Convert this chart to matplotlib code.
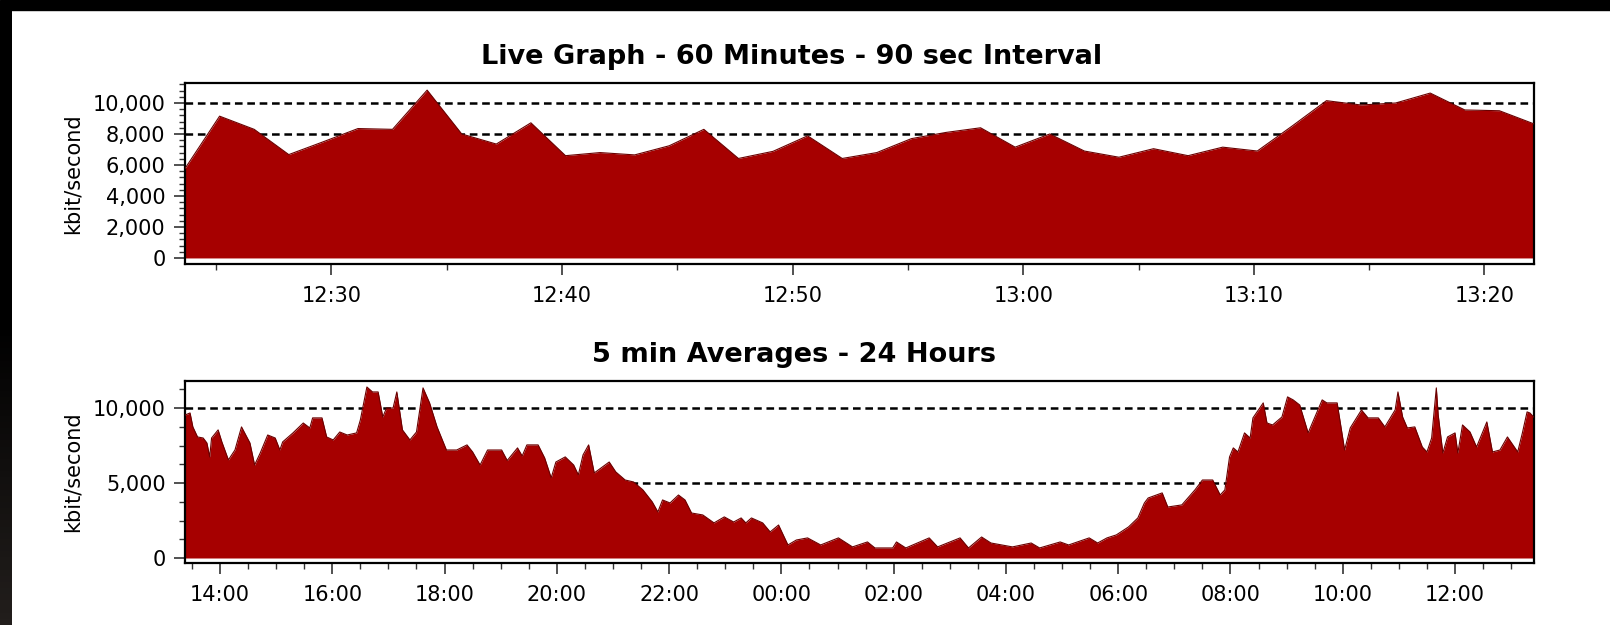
import matplotlib
matplotlib.use('Agg')

import numpy as np
import pandas as pd
import matplotlib.pyplot as plt
import matplotlib.dates as mdates
import matplotlib.ticker as mticker
from matplotlib.patches import Rectangle
from matplotlib.colors import LinearSegmentedColormap

plt.rcParams['font.family'] = ['DejaVu Sans']
plt.rcParams['lines.scale_dashes'] = False

FILL_COLOR = '#a60000'
EDGE_COLOR = '#6a0000'

# live graph, one sample every 90 seconds
LIVE_START = '2000-01-01 12:23:39'
LIVE_STEP = '90s'
LIVE_KBIT = [
  5770, 9150, 8300, 6670, 7500, 8350, 8300, 10830, 8000, 7350,
  8720, 6600, 6800, 6650, 7240, 8300, 6420, 6880, 7880, 6420,
  6800, 7700, 8100, 8400, 7150, 8000, 6900, 6500, 7050, 6600,
  7150, 6900, 8500, 10150, 9870, 10000, 10640, 9550, 9500, 8650,
]
LIVE_GRID = [8000, 10000]

AVG_CLOCK = [
  '13:23', '13:28', '13:31', '13:36', '13:42', '13:46', '13:49', '13:51', '13:58', '14:02',
  '14:09', '14:16', '14:23', '14:32', '14:37', '14:43', '14:51', '14:59', '15:04', '15:07',
  '15:18', '15:29', '15:36', '15:39', '15:49', '15:54', '16:01', '16:08', '16:16', '16:26',
  '16:30', '16:37', '16:43', '16:49', '16:54', '16:58', '17:05', '17:09', '17:15', '17:23',
  '17:30', '17:37', '17:44', '17:52', '18:02', '18:13', '18:24', '18:30', '18:38', '18:46',
  '19:01', '19:07', '19:18', '19:23', '19:28', '19:40', '19:47', '19:54', '19:59', '20:09',
  '20:18', '20:23', '20:28', '20:34', '20:40', '20:56', '21:03', '21:13', '21:22', '21:32',
  '21:42', '21:48', '21:53', '22:01', '22:10', '22:17', '22:24', '22:36', '22:48', '22:59',
  '23:09', '23:17', '23:22', '23:28', '23:40', '23:48', '23:57', '00:07', '00:16', '00:28',
  '00:42', '01:01', '01:16', '01:32', '01:40', '01:59', '02:03', '02:13', '02:38', '02:47',
  '03:11', '03:20', '03:34', '03:44', '04:07', '04:27', '04:36', '04:58', '05:07', '05:29',
  '05:38', '05:48', '05:58', '06:11', '06:21', '06:28', '06:32', '06:47', '06:53', '07:08',
  '07:22', '07:30', '07:41', '07:49', '07:54', '07:59', '08:03', '08:08', '08:15', '08:21',
  '08:24', '08:35', '08:39', '08:45', '08:55', '09:01', '09:07', '09:14', '09:23', '09:38',
  '09:43', '09:54', '10:02', '10:08', '10:20', '10:27', '10:38', '10:45', '10:56', '10:59',
  '11:04', '11:09', '11:17', '11:25', '11:30', '11:35', '11:40', '11:42', '11:47', '11:52',
  '12:00', '12:03', '12:08', '12:16', '12:23', '12:34', '12:40', '12:48', '12:56', '13:07',
  '13:12', '13:17', '13:20', '13:24',
]
AVG_KBIT = [
  9540, 9670, 8740, 8070, 8000, 7670, 6740, 8000, 8540, 7740,
  6540, 7200, 8740, 7670, 6200, 7000, 8200, 8000, 7200, 7740,
  8340, 9000, 8670, 9340, 9340, 8070, 7870, 8400, 8200, 8340,
  9200, 11400, 11070, 11070, 9400, 10000, 10000, 11070, 8540, 7870,
  8400, 11340, 10340, 8740, 7200, 7200, 7540, 7070, 6200, 7200,
  7200, 6500, 7340, 6800, 7540, 7540, 6670, 5340, 6400, 6740,
  6200, 5540, 6870, 7540, 5670, 6400, 5740, 5200, 5070, 4540,
  3740, 3070, 3870, 3670, 4200, 3870, 3000, 2870, 2340, 2740,
  2400, 2670, 2340, 2670, 2340, 1740, 2200, 870, 1200, 1340,
  870, 1340, 740, 1070, 670, 670, 1070, 670, 1340, 740,
  1340, 670, 1400, 1000, 740, 1000, 670, 1070, 870, 1340,
  1000, 1340, 1540, 2070, 2670, 3670, 4000, 4340, 3400, 3540,
  4540, 5200, 5200, 4200, 4540, 6740, 7340, 7070, 8340, 8000,
  9340, 10340, 9000, 8870, 9400, 10740, 10540, 10200, 8340, 10540,
  10340, 10340, 7200, 8670, 9870, 9340, 9340, 8740, 9870, 11070,
  9400, 8670, 8740, 7400, 7070, 8000, 11340, 9540, 7000, 8070,
  8340, 7000, 8870, 8400, 7400, 9070, 7070, 7200, 8070, 7070,
  8340, 9740, 9670, 9400,
]
AVG_GRID = [5000, 10000]

def clock_to_times(clock, first_day):
  times = []
  day = pd.Timestamp(first_day)
  prev = None
  for c in clock:
    t = pd.Timestamp('{} {}'.format(day.date(), c))
    if prev is not None and t < prev:
      day = day + pd.Timedelta(days=1)
      t = t + pd.Timedelta(days=1)
    times.append(t)
    prev = t
  return times

def style_axes(ax):
  for spine in ax.spines.values():
    spine.set_linewidth(1.6)
    spine.set_color('black')
  ax.tick_params(axis='both', which='major', direction='out', length=8, width=1.1,
                 color='#222222', labelsize=15, labelcolor='black')
  ax.tick_params(axis='both', which='minor', direction='out', length=4, width=1.0, color='#333333')
  ax.tick_params(axis='x', which='major', pad=8)
  ax.tick_params(axis='y', which='major', pad=6)
  ax.yaxis.set_major_formatter(mticker.FuncFormatter(lambda v, pos: '{:,.0f}'.format(v)))
  ax.set_ylabel('kbit/second', fontsize=15)
  ax.yaxis.set_label_coords(-0.076, 0.5)

def draw_area(ax, x, y, grid):
  for g in grid:
    ax.axhline(g, color='black', lw=1.8, dashes=(5.5, 3.4), zorder=1)
  ax.fill_between(x, 0, y, color=FILL_COLOR, lw=0, zorder=2)
  ax.plot(x, y, color=EDGE_COLOR, lw=0.8, zorder=3)

fig = plt.figure(figsize=(16.1, 6.25), dpi=100)
fig.patch.set_facecolor('white')
W, H = 1610., 625.

# dark window frame on top and left
fig.patches.append(Rectangle((0, 1 - 10 / H), 1, 10 / H, transform=fig.transFigure, color='black', zorder=0))
frame_ax = fig.add_axes([0, 0, 11 / W, 1 - 10 / H])
frame_cmap = LinearSegmentedColormap.from_list('frame', ['#000000', '#000000', '#221e1c'])
frame_ax.imshow(np.linspace(0, 1, 100).reshape(-1, 1), aspect='auto', cmap=frame_cmap, origin='upper')
frame_ax.set_axis_off()

# live graph
live_times = pd.date_range(LIVE_START, periods=len(LIVE_KBIT), freq=LIVE_STEP)
ax1 = fig.add_axes([185 / W, 1 - 264 / H, 1349 / W, 181 / H])
draw_area(ax1, live_times, LIVE_KBIT, LIVE_GRID)
ax1.set_xlim(live_times[0], live_times[-1])
ax1.set_ylim(-390, 11290)
ax1.yaxis.set_major_locator(mticker.MultipleLocator(2000))
ax1.yaxis.set_minor_locator(mticker.MultipleLocator(400))
ax1.xaxis.set_major_locator(mdates.MinuteLocator(byminute=range(0, 60, 10)))
ax1.xaxis.set_minor_locator(mdates.MinuteLocator(byminute=range(0, 60, 5)))
ax1.xaxis.set_major_formatter(mdates.DateFormatter('%H:%M'))
style_axes(ax1)

# 24 hour averages
avg_times = clock_to_times(AVG_CLOCK, '2000-01-01')
ax2 = fig.add_axes([185 / W, 1 - 563 / H, 1349 / W, 182 / H])
draw_area(ax2, avg_times, AVG_KBIT, AVG_GRID)
ax2.set_xlim(pd.Timestamp('2000-01-01 13:22:36'), pd.Timestamp('2000-01-02 13:24:24'))
ax2.set_ylim(-333, 11800)
ax2.yaxis.set_major_locator(mticker.MultipleLocator(5000))
ax2.yaxis.set_minor_locator(mticker.MultipleLocator(1250))
ax2.xaxis.set_major_locator(mdates.HourLocator(byhour=range(0, 24, 2)))
ax2.xaxis.set_minor_locator(mdates.MinuteLocator(byminute=[0, 30]))
ax2.xaxis.set_major_formatter(mdates.DateFormatter('%H:%M'))
style_axes(ax2)

fig.text(792 / W, 1 - 64 / H, 'Live Graph - 60 Minutes - 90 sec Interval',
         ha='center', va='baseline', fontsize=19.5, fontweight='bold')
fig.text(794 / W, 1 - 362 / H, '5 min Averages - 24 Hours',
         ha='center', va='baseline', fontsize=19.5, fontweight='bold')

fig.savefig('out.png', dpi=100, facecolor='white')
